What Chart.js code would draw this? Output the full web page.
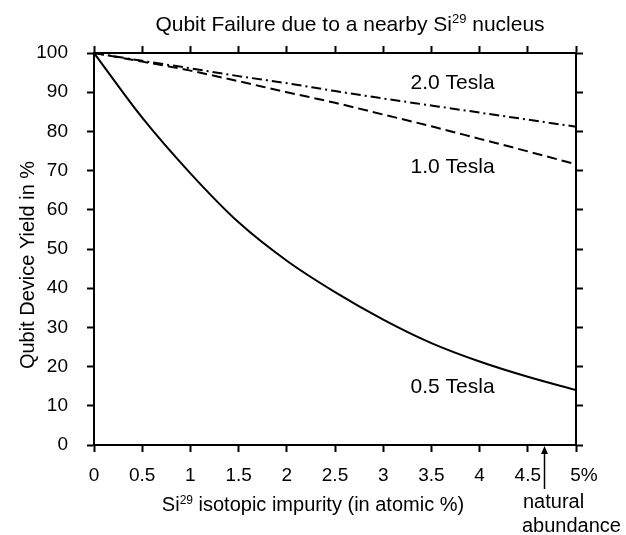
<!DOCTYPE html>
<html><head><meta charset="utf-8">
<script src="https://cdn.jsdelivr.net/npm/chart.js@4.4.1/dist/chart.umd.min.js"></script>
<style>html,body{margin:0;padding:0;background:#fff;}#wrap{width:626px;height:535px;position:relative;}</style>
</head><body><div id="wrap"><canvas id="c"></canvas></div>
<script>
// ---- data ----
const xValues   = [0, 0.5, 1, 1.5, 2, 2.5, 3, 3.5, 4, 4.5, 5];
const yield05T  = [100, 83.5, 69.3, 56.8, 47, 39, 32, 26, 21.3, 17.4, 14];
const yield10T  = [100, 97.8, 95.5, 92.8, 90.0, 87.3, 84.3, 81.3, 78.1, 74.9, 71.6];
const yield20T  = [100, 98.0, 96.1, 94.1, 92.3, 90.3, 88.4, 86.6, 84.8, 83.0, 81.2];
const seriesNames = ['0.5 Tesla', '1.0 Tesla', '2.0 Tesla'];
const xTickLabels = ['0', '0.5', '1', '1.5', '2', '2.5', '3', '3.5', '4', '4.5', '5%'];
const yTickLabels = ['0', '10', '20', '30', '40', '50', '60', '70', '80', '90', '100'];
const naturalAbundance = 4.67;

const FONT = "'Liberation Sans', Arial, Helvetica, sans-serif";
Chart.defaults.font.family = FONT;
Chart.defaults.color = '#000';

function pts(ys) { return xValues.map((x, i) => ({x: x, y: ys[i]})); }

function drawRich(ctx, parts, x, y, size, align) {
  const big = size + 'px ' + FONT, small = Math.round(size * 0.62) + 'px ' + FONT;
  let total = 0;
  const ws = parts.map(p => { ctx.font = p[1] ? small : big; const w = ctx.measureText(p[0]).width; total += w; return w; });
  let cx = align === 'center' ? x - total / 2 : x;
  ctx.textAlign = 'left';
  ctx.textBaseline = 'alphabetic';
  parts.forEach((p, i) => {
    ctx.font = p[1] ? small : big;
    ctx.fillText(p[0], cx, p[1] ? y - size * 0.36 : y);
    cx += ws[i];
  });
}

const textPlugin = {
  id: 'texts',
  afterDraw(chart) {
    const ctx = chart.ctx, xs = chart.scales.x, ys = chart.scales.y;
    ctx.save();
    ctx.fillStyle = '#000';
    ctx.strokeStyle = '#000';
    // main title
    drawRich(ctx, [['Qubit Failure due to a nearby Si', false], ['29', true], [' nucleus', false]], 350, 31, 21, 'center');
    // x axis title
    drawRich(ctx, [['Si', false], ['29', true], [' isotopic impurity (in atomic %)', false]], 313, 511, 20, 'center');
    // y axis title
    ctx.save();
    ctx.translate(34, 265);
    ctx.rotate(-Math.PI / 2);
    ctx.font = '20px ' + FONT;
    ctx.textAlign = 'center';
    ctx.textBaseline = 'alphabetic';
    ctx.fillText('Qubit Device Yield in %', 0, 0);
    ctx.restore();
    // series labels
    ctx.font = '21px ' + FONT;
    ctx.textAlign = 'center';
    ctx.textBaseline = 'alphabetic';
    const lx = xs.getPixelForValue(3.72);
    ctx.fillText(seriesNames[2], lx, ys.getPixelForValue(90.7));
    ctx.fillText(seriesNames[1], lx, ys.getPixelForValue(69.4));
    ctx.fillText(seriesNames[0], lx, ys.getPixelForValue(13.3));
    // natural abundance arrow
    const ax = Math.round(xs.getPixelForValue(naturalAbundance)) + 0.5;
    const ay = ys.getPixelForValue(0) + 1;
    ctx.lineWidth = 1.5;
    ctx.beginPath();
    ctx.moveTo(ax, ay + 43);
    ctx.lineTo(ax, ay + 6);
    ctx.stroke();
    ctx.beginPath();
    ctx.moveTo(ax, ay);
    ctx.lineTo(ax - 3.5, ay + 8);
    ctx.lineTo(ax + 3.5, ay + 8);
    ctx.closePath();
    ctx.fill();
    ctx.font = '20px ' + FONT;
    ctx.textAlign = 'left';
    ctx.fillText('natural', 523, 507.5);
    ctx.fillText('abundance', 522, 532);
    ctx.restore();
  }
};

const bgPlugin = {
  id: 'bg',
  beforeDraw(chart) {
    const ctx = chart.ctx;
    ctx.save(); ctx.fillStyle = '#fff'; ctx.fillRect(0, 0, chart.width, chart.height); ctx.restore();
  }
};

const gridCommon = { drawOnChartArea: false, drawTicks: true, tickLength: 7, tickWidth: 2, tickColor: '#000' };
const borderCommon = { display: true, color: '#000', width: 2 };

new Chart(document.getElementById('c'), {
  type: 'line',
  data: {
    datasets: [
      { label: seriesNames[0], data: pts(yield05T), borderColor: '#000', borderWidth: 2, pointRadius: 0, cubicInterpolationMode: 'monotone', fill: false },
      { label: seriesNames[1], data: pts(yield10T), borderColor: '#000', borderWidth: 2, borderDash: [10, 5], pointRadius: 0, cubicInterpolationMode: 'monotone', fill: false },
      { label: seriesNames[2], data: pts(yield20T), borderColor: '#000', borderWidth: 2, borderDash: [10, 4, 2, 4], pointRadius: 0, cubicInterpolationMode: 'monotone', fill: false }
    ]
  },
  options: {
    responsive: true,
    maintainAspectRatio: false,
    animation: false,
    layout: { padding: { top: 53, right: 50, left: 0, bottom: 0 } },
    plugins: { legend: { display: false }, title: { display: false }, tooltip: { enabled: false } },
    scales: {
      x: {
        type: 'linear', position: 'bottom', min: 0, max: 5,
        ticks: { stepSize: 0.5, autoSkip: false, maxRotation: 0, padding: 12, font: { size: 19 },
          callback: (v, i) => (i === xTickLabels.length - 1 ? '   ' : '') + xTickLabels[i] },
        grid: gridCommon, border: borderCommon,
        afterFit: s => { s.height = 90; }
      },
      x2: {
        type: 'linear', position: 'top', min: 0, max: 5,
        ticks: { stepSize: 0.5, display: false },
        grid: gridCommon, border: borderCommon,
        afterFit: s => { s.height = 0; }
      },
      y: {
        type: 'linear', position: 'left', min: 0, max: 100,
        ticks: { stepSize: 10, padding: 19, font: { size: 19 }, callback: (v, i) => yTickLabels[i] },
        grid: gridCommon, border: borderCommon,
        afterFit: s => { s.width = 94; }
      },
      y2: {
        type: 'linear', position: 'right', min: 0, max: 100,
        ticks: { stepSize: 10, display: false },
        grid: gridCommon, border: borderCommon,
        afterFit: s => { s.width = 0; }
      }
    }
  },
  plugins: [bgPlugin, textPlugin]
});
</script>
</body></html>
